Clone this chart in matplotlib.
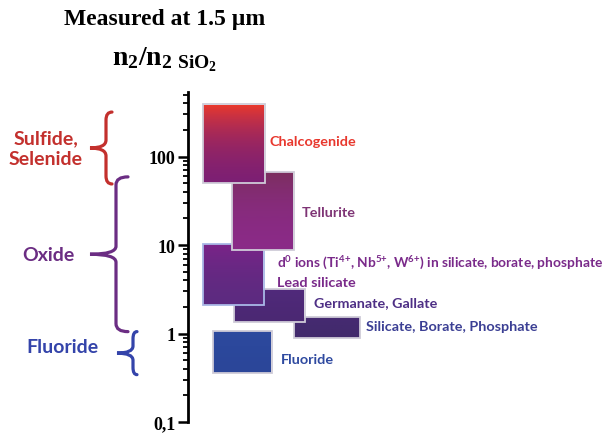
import numpy as np
import matplotlib.pyplot as plt
from matplotlib.colors import LinearSegmentedColormap
from matplotlib.patches import Rectangle, PathPatch
from matplotlib.path import Path
from matplotlib.ticker import FixedLocator, FixedFormatter, LogLocator, NullFormatter

plt.rcParams['font.family'] = ['Lato', 'DejaVu Sans']

# n2 / n2(SiO2) ranges of glass families, measured at 1.5 um
glasses = ['Chalcogenide', 'Tellurite', 'Lead silicate', 'Germanate, Gallate',
           'Silicate, Borate, Phosphate', 'Fluoride']
n2_low = [50, 8.7, 2.08, 1.35, 0.88, 0.355]
n2_high = [389, 67.6, 10.4, 3.2, 1.53, 1.06]
d0_note = ('d$^{\\mathregular{0}}$ ions (Ti$^{\\mathregular{4{+}}}$, Nb$^{\\mathregular{5{+}}}$, '
           'W$^{\\mathregular{6{+}}}$) in silicate, borate, phosphate')
y_ticks = [0.1, 1, 10, 100]
y_ticklabels = ['0,1', '1', '10', '100']

# family groups shown with braces on the left
groups = ['Sulfide,\nSelenide', 'Oxide', 'Fluoride']
group_low = [49, 1.05, 0.343]
group_high = [318, 58.9, 1.05]

# layout (x in pixels right of the axis line)
bar_x0 = [15, 44, 15, 46, 106, 25]
bar_x1 = [77, 106, 76, 117, 172, 84]
bar_z = [10, 9, 8, 7, 6, 5]
label_x = [82, 114, 89, 126, 178, 93]
label_y = [150, 23.5, 3.84, 2.25, 1.22, 0.52]
top_colors = ['#ee3a2a', '#7b2f5c', '#7d2389', '#512a7c', '#462a72', '#2d4a9f']
bottom_colors = ['#7c1f74', '#8b2a88', '#5c2b80', '#4b2873', '#422a6c', '#2b4699']
edge_colors = ['#cfcbd8', '#cfcbd8', '#a9b8e6', '#cfcbd8', '#cfcbd8', '#cfcbd8']
text_colors = ['#e8382e', '#7e3475', '#7a2a8a', '#4e2f85', '#3b3f94', '#2f4aa0']
group_colors = ['#c3302d', '#6b2d83', '#3444aa']
group_text_x = [46, 48, 62]
group_text_dy = [0, 0, 7]
brace_xv = [106, 116, 133]
brace_xend = [112, 128, 137]
brace_xtip = [90, 90, 117]

fig = plt.figure(figsize=(6.14, 4.35), dpi=100)
ax = fig.add_axes([188 / 614, 12 / 435, 426 / 614, 330 / 435])
ax.set_yscale('log')
ax.set_ylim(0.1, 536)
ax.set_xlim(0, 426)

grad = np.linspace(0, 1, 256).reshape(-1, 1)
for i in range(len(glasses)):
    cmap = LinearSegmentedColormap.from_list('g%d' % i, [bottom_colors[i], top_colors[i]])
    rect = Rectangle((bar_x0[i], n2_low[i]), bar_x1[i] - bar_x0[i], n2_high[i] - n2_low[i],
                     facecolor='none', edgecolor=edge_colors[i], lw=1.3, zorder=bar_z[i] + 0.5)
    ax.add_patch(rect)
    im = ax.imshow(grad, cmap=cmap, origin='lower', aspect='auto', interpolation='bilinear',
                   extent=(bar_x0[i], bar_x1[i], n2_low[i], n2_high[i]), zorder=bar_z[i])
    im.set_clip_path(rect)
    ax.text(label_x[i], label_y[i], glasses[i], color=text_colors[i], fontsize=10.4,
            fontweight='bold', ha='left', va='center', zorder=20)

# the d0-ion note sits above the "Lead silicate" label
ax.text(label_x[2], 6.6, d0_note, color=text_colors[2], fontsize=9.9,
        fontweight='bold', ha='left', va='center', zorder=20)

ax.set_xlim(0, 426)
ax.set_ylim(0.1, 536)

for s in ['top', 'right', 'bottom']:
    ax.spines[s].set_visible(False)
ax.spines['left'].set_linewidth(2)
ax.set_xticks([])
ax.yaxis.set_major_locator(FixedLocator(y_ticks))
ax.yaxis.set_major_formatter(FixedFormatter(y_ticklabels))
ax.yaxis.set_minor_locator(LogLocator(base=10, subs=np.arange(2, 10)))
ax.yaxis.set_minor_formatter(NullFormatter())
ax.tick_params(axis='y', which='major', length=7, width=1.8, pad=2)
ax.tick_params(axis='y', which='minor', length=3.5, width=1.3)
for lab in ax.get_yticklabels():
    lab.set_fontfamily('Liberation Serif')
    lab.set_fontweight('bold')
    lab.set_fontsize(13)

# braces on the left, drawn in figure pixels
H = 435
to_fig = fig.transFigure.inverted()
for i in range(len(groups)):
    y_hi = ax.transData.transform((0, group_high[i]))[1]
    y_lo = ax.transData.transform((0, group_low[i]))[1]
    y_mid = (y_hi + y_lo) / 2
    xv, xe, xt = brace_xv[i], brace_xend[i], brace_xtip[i]
    r = min(8, (y_hi - y_lo) / 6)
    verts = [(xe, y_hi), (xv, y_hi), (xv, y_hi - r),
             (xv, y_mid + r),
             (xv, y_mid), (xt, y_mid),
             (xv, y_mid), (xv, y_mid - r),
             (xv, y_lo + r),
             (xv, y_lo), (xe, y_lo)]
    codes = [Path.MOVETO, Path.CURVE3, Path.CURVE3, Path.LINETO, Path.CURVE3, Path.CURVE3,
             Path.CURVE3, Path.CURVE3, Path.LINETO, Path.CURVE3, Path.CURVE3]
    verts = to_fig.transform(np.array(verts, dtype=float))
    fig.add_artist(PathPatch(Path(verts, codes), facecolor='none', edgecolor=group_colors[i],
                             lw=2.3, transform=fig.transFigure, capstyle='round'))
    fig.text(group_text_x[i] / 614, (y_mid + group_text_dy[i]) / H, groups[i],
             color=group_colors[i], fontsize=14, fontweight='bold', ha='center', va='center',
             linespacing=1.25)

fig.text(165 / 614, 1 - 20 / H, 'Measured at 1.5 µm', fontfamily='Liberation Serif',
         fontweight='bold', fontsize=17, ha='center', va='center')
fig.text(165 / 614, 1 - 60 / H, r'$\mathregular{n_2/n_{2\ SiO_2}}$', fontfamily='Liberation Serif',
         fontweight='bold', fontsize=20, ha='center', va='center')

fig.savefig('out.png', dpi=100)
